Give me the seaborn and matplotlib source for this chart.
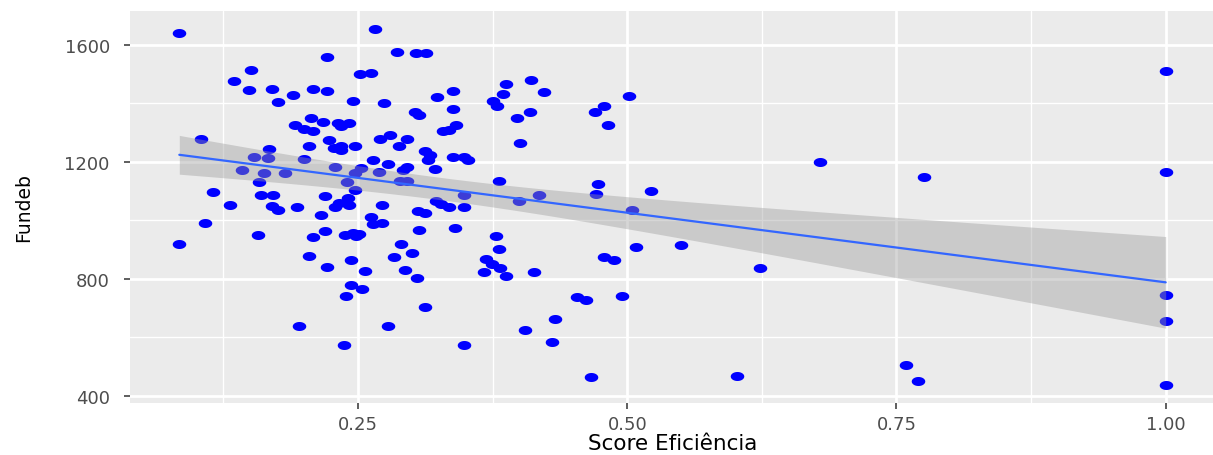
import numpy as np
import pandas as pd
import matplotlib
matplotlib.use("Agg")
import matplotlib.pyplot as plt
import seaborn as sns

# Score de eficiência (x) e Fundeb (y)
score = [
    0.084, 0.084, 0.104, 0.108, 0.115, 0.131, 0.135, 0.151, 0.149, 0.142,
    0.157, 0.153, 0.167, 0.166, 0.163, 0.158, 0.160, 0.171, 0.170, 0.176,
    0.170, 0.176, 0.190, 0.193, 0.182, 0.221, 0.208, 0.221, 0.245, 0.252,
    0.262, 0.206, 0.191, 0.200, 0.208, 0.217, 0.231, 0.234, 0.242, 0.204,
    0.223, 0.228, 0.234, 0.234, 0.247, 0.200, 0.229, 0.240, 0.219, 0.232,
    0.241, 0.242, 0.247, 0.216, 0.229, 0.208, 0.219, 0.238, 0.245, 0.248,
    0.251, 0.204, 0.221, 0.243, 0.243, 0.239, 0.195, 0.237, 0.254, 0.256,
    0.278, 0.283, 0.290, 0.294, 0.300, 0.305, 0.307, 0.264, 0.272, 0.272,
    0.262, 0.306, 0.312, 0.322, 0.327, 0.334, 0.348, 0.340, 0.312, 0.348,
    0.378, 0.381, 0.369, 0.374, 0.382, 0.367, 0.387, 0.413, 0.433, 0.405,
    0.430, 0.399, 0.453, 0.462, 0.466, 0.478, 0.488, 0.495, 0.508, 0.550,
    0.623, 0.602, 0.759, 0.770, 1.000, 1.000, 1.000, 0.679, 0.776, 1.000,
    1.000, 0.286, 0.304, 0.313, 0.266, 0.274, 0.303, 0.307, 0.323, 0.338,
    0.338, 0.329, 0.334, 0.341, 0.270, 0.280, 0.295, 0.288, 0.312, 0.317,
    0.315, 0.338, 0.348, 0.352, 0.264, 0.278, 0.295, 0.292, 0.321, 0.253,
    0.247, 0.269, 0.289, 0.295, 0.348, 0.381, 0.418, 0.375, 0.379, 0.387,
    0.385, 0.411, 0.423, 0.410, 0.398, 0.400, 0.470, 0.478, 0.482, 0.502,
    0.473, 0.471, 0.522, 0.504,
]
fundeb = [
    1640, 920, 1278, 990, 1096, 1051, 1476, 1513, 1445, 1172,
    950, 1216, 1244, 1213, 1161, 1130, 1086, 1086, 1048, 1035,
    1449, 1404, 1428, 1045, 1161, 1560, 1449, 1443, 1407, 1500,
    1503, 1349, 1327, 1312, 1307, 1335, 1332, 1322, 1332, 1255,
    1274, 1247, 1253, 1242, 1255, 1210, 1184, 1130, 1084, 1059,
    1076, 1053, 1104, 1017, 1044, 943, 962, 950, 956, 945,
    952, 879, 840, 863, 780, 742, 639, 572, 766, 825,
    637, 873, 920, 831, 888, 802, 968, 988, 991, 1051,
    1010, 1032, 1025, 1067, 1055, 1044, 1047, 973, 703, 572,
    948, 901, 867, 851, 837, 823, 808, 823, 662, 624,
    583, 1065, 738, 728, 464, 873, 865, 742, 907, 916,
    837, 469, 506, 449, 745, 656, 436, 1199, 1147, 1509,
    1165, 1575, 1572, 1572, 1655, 1401, 1372, 1361, 1421, 1443,
    1381, 1307, 1309, 1327, 1278, 1292, 1278, 1255, 1236, 1224,
    1207, 1218, 1218, 1207, 1207, 1193, 1184, 1173, 1175, 1178,
    1161, 1164, 1133, 1133, 1087, 1133, 1087, 1407, 1390, 1467,
    1433, 1480, 1438, 1369, 1349, 1264, 1369, 1392, 1326, 1426,
    1125, 1091, 1101, 1034,
]
x_ticks = [0.25, 0.50, 0.75, 1.00]
x_ticklabels = ["0.25", "0.50", "0.75", "1.00"]
y_ticks = [400, 800, 1200, 1600]
y_ticklabels = ["400", "800", "1200", "1600"]

df = pd.DataFrame({"Score Eficiência": score, "Fundeb": fundeb})

sns.set_theme(style="darkgrid")
plt.rcParams["font.family"] = ["DejaVu Sans"]

fig = plt.figure(figsize=(12.13, 4.56), dpi=100)
ax = fig.add_axes([130 / 1213, 1 - 404 / 456, 1085 / 1213, 392 / 456])
ax.set_facecolor("#EBEBEB")

# horizontally stretched round dots, as in the reference
t = np.linspace(0, 2 * np.pi, 60)
ell = np.column_stack([1.5 * np.cos(t), np.sin(t)])

sns.scatterplot(data=df, x="Score Eficiência", y="Fundeb", ax=ax,
                color="#0000FF", marker=ell, s=95, linewidth=0, zorder=2)

# linear fit with analytic 95% confidence band (as ggplot geom_smooth lm)
xv = np.asarray(score, float)
yv = np.asarray(fundeb, float)
n = len(xv)
b1, b0 = np.polyfit(xv, yv, 1)
resid = yv - (b0 + b1 * xv)
s_err = np.sqrt(np.sum(resid ** 2) / (n - 2))
sxx = np.sum((xv - xv.mean()) ** 2)
grid = np.linspace(xv.min(), xv.max(), 80)
fit = b0 + b1 * grid
half = 1.973 * s_err * np.sqrt(1 / n + (grid - xv.mean()) ** 2 / sxx)
ax.fill_between(grid, fit - half, fit + half, color="#999999", alpha=0.4,
                linewidth=0, zorder=3)
sns.regplot(data=df, x="Score Eficiência", y="Fundeb", ax=ax, scatter=False,
            ci=None, truncate=True, color="#3366FF",
            line_kws={"lw": 1.6, "zorder": 4})

xr = xv.max() - xv.min()
yr = yv.max() - yv.min()
ax.set_xlim(xv.min() - 0.05 * xr, xv.max() + 0.05 * xr)
ax.set_ylim(yv.min() - 0.05 * yr, yv.max() + 0.05 * yr)

ax.set_xticks(x_ticks)
ax.set_xticklabels(x_ticklabels)
ax.set_yticks(y_ticks)
ax.set_yticklabels(y_ticklabels)
ax.set_xticks([0.125, 0.375, 0.625, 0.875], minor=True)
ax.set_yticks([600, 1000, 1400], minor=True)
ax.grid(which="major", color="white", lw=2.0)
ax.grid(which="minor", color="white", lw=1.0)
ax.tick_params(which="minor", length=0)
ax.tick_params(which="major", length=4.5, width=1.1, color="#333333",
               labelcolor="#4D4D4D", labelsize=13)
ax.tick_params(axis="x", which="major", bottom=True, pad=4)
ax.tick_params(axis="y", which="major", left=True, pad=10)
for s in ax.spines.values():
    s.set_visible(False)

ax.set_xlabel("Score Eficiência", fontsize=15.5, color="black", labelpad=0)
ax.set_ylabel("Fundeb", fontsize=13.5, color="black")
ax.yaxis.set_label_coords(-0.089, 0.5)

fig.savefig("out.png", dpi=100, facecolor="white")
